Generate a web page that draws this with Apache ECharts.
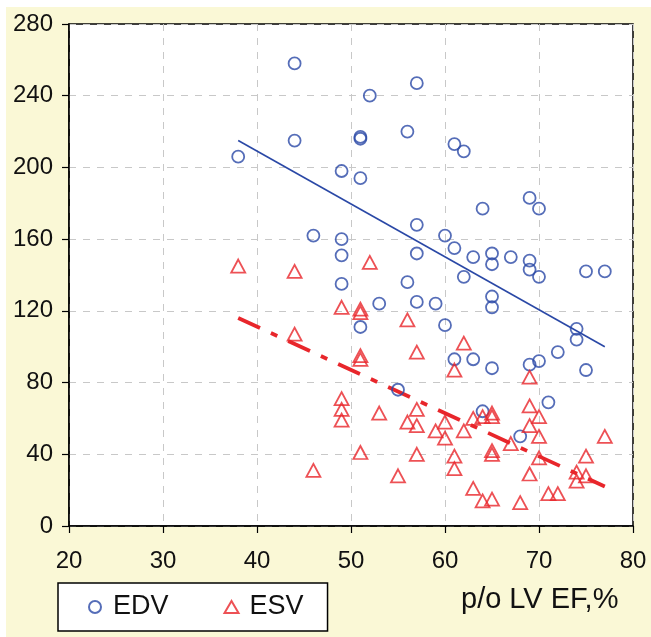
<!DOCTYPE html>
<html>
<head>
<meta charset="utf-8">
<script src="https://cdn.jsdelivr.net/npm/echarts@6/dist/echarts.min.js"></script>
<style>
html,body{margin:0;padding:0;background:#fff;width:651px;height:637px;overflow:hidden;}
#c{position:absolute;left:6px;top:7px;width:645px;height:630px;}
</style>
</head>
<body>
<div id="c"></div>
<script>
// EDV points [EF %, volume]
const edvData = [
  [44,258],[57,247],[52,240],[56,220],[51,217],[51,216],[44,215],[61,213],[62,209],[38,206],
  [49,198],[51,194],[69,183],[64,177],[70,177],[57,168],[46,162],[60,162],[49,160],[61,155],
  [49,151],[57,152],[65,152],[63,150],[67,150],[69,148],[65,146],[69,143],[62,139],[70,139],
  [75,142],[77,142],[49,135],[56,136],[65,128],[65,122],[53,124],[57,125],[59,124],[60,112],
  [51,111],[74,110],[74,104],[72,97],[61,93],[63,93],[70,92],[69,90],[65,88],[75,87],
  [55,76],[71,69],[64,64],[68,50]
];
// ESV points [EF %, volume]
const esvData = [
  [38,145],[44,142],[52,147],[49,122],[51,121],[51,119],[56,115],[44,107],[62,102],[57,97],
  [51,95],[51,93],[61,87],[69,83],[49,71],[49,65],[49,59],[53,63],[57,65],[56,58],
  [57,56],[59,53],[60,58],[60,49],[65,63],[65,61],[64,61],[63,60],[62,53],[69,67],
  [70,61],[69,56],[70,50],[67,46],[77,50],[51,41],[57,40],[61,39],[61,32],[65,42],
  [65,40],[70,38],[75,39],[46,31],[55,28],[69,29],[74,30],[74,25],[75,28],[63,21],
  [64,14],[65,15],[68,13],[71,18],[72,18]
];
// trend line endpoints
const edvTrend = [[38,215],[77,100]];
const esvTrend = [[38,116],[77,22]];
// axis ticks
const xTicks = [20,30,40,50,60,70,80];
const yTicks = [0,40,80,120,160,200,240,280];
const seriesNames = ['EDV','ESV'];
const xTitle = 'p/o LV EF,%';

const BLUE = '#2A48A6', RED = '#E8262B';
const FONT = '"Liberation Sans", Arial, sans-serif';

const chart = echarts.init(document.getElementById('c'), null, {renderer:'canvas'});
chart.setOption({
  backgroundColor: '#FAF8D6',
  animation: false,
  grid: {
    left: 63, top: 17, right: 18, bottom: 111,
    show: true, backgroundColor: '#fff', borderColor: '#000', borderWidth: 1.5
  },
  xAxis: {
    type: 'value', min: xTicks[0], max: xTicks[xTicks.length-1], interval: 10,
    axisLine: {show: true, lineStyle: {color: '#000', width: 1.5}},
    axisTick: {show: true, inside: false, length: 7, lineStyle: {color: '#000', width: 1.2}},
    axisLabel: {color: '#111', fontSize: 24, fontFamily: FONT, margin: 23},
    splitLine: {show: true, lineStyle: {color: '#C8C8C8', type: [7,7], width: 1}}
  },
  yAxis: {
    type: 'value', min: yTicks[0], max: yTicks[yTicks.length-1], interval: 40,
    axisLine: {show: true, lineStyle: {color: '#000', width: 1.5}},
    axisTick: {show: true, inside: false, length: 7, lineStyle: {color: '#000', width: 1.2}},
    axisLabel: {color: '#111', fontSize: 24, fontFamily: FONT, margin: 16},
    splitLine: {show: true, lineStyle: {color: '#C8C8C8', type: [7,7], width: 1}}
  },
  legend: {
    data: seriesNames,
    left: 52, top: 576, orient: 'horizontal',
    padding: [10, 24, 10, 30], itemGap: 55, itemWidth: 14, itemHeight: 12,
    backgroundColor: '#fff', borderColor: '#000', borderWidth: 1.5,
    textStyle: {color: '#111', fontSize: 27, fontFamily: FONT, lineHeight: 28, padding: [0,0,0,6]}
  },
  graphic: [{
    type: 'text', left: 455, top: 578,
    style: {text: xTitle, fill: '#111', font: '29px ' + FONT}
  }],
  series: [
    {
      name: seriesNames[0], type: 'scatter', symbol: 'circle', symbolSize: 12,
      itemStyle: {color: 'rgba(255,255,255,0)', borderColor: BLUE, borderWidth: 1.8},
      data: edvData, z: 3
    },
    {
      name: seriesNames[1], type: 'scatter', symbol: 'triangle', symbolSize: [14,13],
      itemStyle: {color: 'rgba(255,255,255,0)', borderColor: RED, borderWidth: 1.8},
      data: esvData, z: 3
    },
    {
      name: 'EDV trend', type: 'line', data: edvTrend, symbol: 'none',
      lineStyle: {color: BLUE, width: 1.6}, z: 2, silent: true
    },
    {
      name: 'ESV trend', type: 'line', data: esvTrend, symbol: 'none',
      lineStyle: {color: RED, width: 3.8, type: [24,12,7,12]}, z: 2, silent: true
    }
  ]
});
</script>
</body>
</html>
